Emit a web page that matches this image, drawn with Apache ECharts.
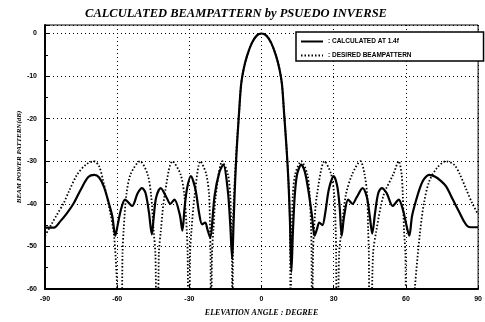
<!DOCTYPE html>
<html>
<head>
<meta charset="utf-8">
<script src="https://cdn.jsdelivr.net/npm/echarts@6/dist/echarts.min.js"></script>
<style>html,body{margin:0;padding:0;background:#fff}#c{width:485px;height:322px}</style>
</head>
<body>
<div id="c"></div>
<script>
var titleText = 'CALCULATED BEAMPATTERN by PSUEDO INVERSE';
var xName = 'ELEVATION ANGLE : DEGREE';
var yName = 'BEAM POWER PATTERN(dB)';
var seriesNames = [': CALCULATED AT 1.4f', ': DESIRED BEAMPATTERN'];
var xTicks = [-90, -60, -30, 0, 30, 60, 90];
var yTicks = [-60, -50, -40, -30, -20, -10, 0];

// calculated beampattern (angle deg, dB)
var calcAngles = [-90,-86.3,-83.5,-81,-78,-75,-72,-69.5,-67.5,-65.5,-63.5,-62,-60.8,-59.8,-58.5,-56.7,-53.8,-51.5,-49.7,-48.2,-46.8,-45.6,-44.8,-43.8,-41.9,-39.5,-37.9,-36.2,-34,-32.9,-32,-31,-29.4,-27.5,-26,-24.7,-23.4,-22.5,-21.4,-19.5,-17.5,-15.9,-14,-13,-12.2,-11.6,-11,-10.3,-9.4,-8.5,-7.5,-6,-4,-2,0,2,4,6,7.5,8.5,9.4,10.4,11.2,11.8,12.4,13,13.8,14.8,16.5,18,19.5,21,22,23,24,25.3,26.5,28,30,31.5,32.5,33.3,34.3,36,37.8,39.5,42,43.8,45,46,47.2,48.5,50,52,54.5,57,58.8,60.2,61.4,62.5,63.7,65.8,67.5,69.7,72,74.5,76.7,79.5,82.2,84,85.5,87,90];
var calcPower = [-45.6,-45.6,-44,-42.3,-39.8,-36.5,-33.7,-33.2,-33.8,-36,-39.8,-43,-47.5,-45,-41.5,-39,-40.5,-37.5,-36.3,-37.5,-42,-47.2,-43,-38.5,-36.3,-38.5,-40,-39,-42.5,-46.3,-41,-36.5,-33.5,-36.5,-42,-44.8,-44.4,-46,-47.9,-38,-32.5,-30.8,-37,-45,-53,-44,-35,-27,-19,-12,-8.5,-5.2,-2.2,-0.5,0,-0.5,-2.2,-5.2,-8.5,-12,-19,-27,-35,-44,-56,-47,-38,-33,-30.8,-32.5,-37,-43,-47.5,-46,-44.4,-45,-42,-36.5,-33.5,-36,-41,-47.5,-43,-39,-40,-38.5,-36.3,-38.5,-43,-47,-42,-37.5,-36.3,-37.5,-40.5,-39,-41.5,-45,-47.5,-43,-40.2,-36.3,-34.2,-33.2,-33.6,-34.6,-35.9,-39,-42,-44,-45.2,-45.5,-45.5];

// desired beampattern (angle deg, dB)
var desAngles = [-90,-87.5,-85,-82.2,-80,-76.7,-73,-69.7,-67.5,-65.8,-63.7,-61.4,-60,-59,-58.3,-57.8,-57.3,-56.2,-54.4,-50.5,-47.4,-45.9,-44.9,-44.1,-43.5,-43.1,-42.7,-41.8,-40.3,-37,-33.7,-32.1,-31.1,-30.7,-30.3,-30,-29.7,-29.1,-27.8,-25.4,-23,-21.8,-21.4,-21.2,-21,-20.8,-20.6,-20,-19,-16.3,-14,-13,-12.6,-12.3,-12.1,-11.8,-11.2,-10.4,-9.4,-8.5,-7.5,-6,-4,-2,0,2,4,6,7.5,8.5,9.4,10.4,11.2,11.8,12.1,12.3,12.6,13,14,16.5,19,20,20.6,20.8,21,21.2,21.4,21.8,23,26.2,28.9,30.2,30.8,31,31.3,31.6,32.2,33.3,35,37.7,41.1,42.8,43.9,44.3,44.6,44.9,45.3,46.3,47.8,50.7,54.8,57,58.2,58.7,59.2,59.8,60.3,61.6,63.7,65.8,67.5,69.7,73,76.7,80,82.2,85,87.5,90];
var desPower = [-47.5,-45,-42.5,-39.8,-37,-33.2,-30.8,-30,-31.2,-34.7,-39.8,-47,-60,-80,-80,-52,-46,-38,-33,-30,-33,-38,-46,-52,-80,-80,-52,-46,-38,-30,-33,-38,-46,-52,-80,-80,-52,-46,-38,-30,-33,-38,-46,-52,-80,-80,-52,-46,-38,-30,-33,-38,-46,-52,-80,-44,-35,-27,-19,-12,-8.5,-5.2,-2.2,-0.5,0,-0.5,-2.2,-5.2,-8.5,-12,-19,-27,-35,-44,-80,-52,-46,-38,-33,-30,-33,-38,-46,-52,-80,-80,-52,-46,-38,-30,-33,-38,-46,-52,-80,-80,-52,-46,-38,-33,-30,-33,-38,-46,-52,-80,-80,-52,-46,-38,-33,-30,-33,-38,-46,-52,-80,-80,-60,-47,-39.8,-34.7,-31.5,-30,-30.8,-32.8,-36.5,-39.8,-42.5,-45,-47];

function pairs(a, b) { var r = []; for (var i = 0; i < a.length; i++) r.push([a[i], b[i]]); return r; }

var chart = echarts.init(document.getElementById('c'), null, {renderer: 'canvas'});
var lblFont = {fontFamily: 'Liberation Sans', fontWeight: 'bold', fontSize: 7, color: '#000'};
chart.setOption({
  animation: false,
  backgroundColor: '#fff',
  title: {
    text: titleText, left: 231, textAlign: 'center', top: 2,
    textStyle: {fontFamily: 'Liberation Serif', fontStyle: 'italic', fontWeight: 'bold', fontSize: 12.5, color: '#000'}
  },
  grid: {left: 45, right: 2, top: 25, bottom: 31, show: true, borderColor: '#000', borderWidth: 1},
  legend: {
    orient: 'vertical', left: 296, top: 32, padding: [6, 72, 2, 4], itemGap: 7,
    itemWidth: 22, itemHeight: 8,
    itemStyle: {opacity: 0},
    backgroundColor: '#fff', borderColor: '#000', borderWidth: 1.5, borderRadius: 0,
    textStyle: {fontFamily: 'Liberation Sans', fontWeight: 'bold', fontSize: 6.5, color: '#000'},
    data: seriesNames
  },
  xAxis: {
    type: 'value', min: xTicks[0], max: xTicks[xTicks.length - 1], interval: 30,
    name: xName, nameLocation: 'middle', nameGap: 20, nameMoveOverlap: false,
    nameTextStyle: {fontFamily: 'Liberation Serif', fontStyle: 'italic', fontWeight: 'bold', fontSize: 8, color: '#000'},
    axisLine: {onZero: false, lineStyle: {color: '#000', width: 2}},
    axisTick: {inside: true, length: 3, lineStyle: {color: '#000'}},
    axisLabel: Object.assign({margin: 7}, lblFont),
    splitLine: {show: true, lineStyle: {color: '#000', type: [1, 3], width: 1}}
  },
  yAxis: {
    type: 'value', min: yTicks[0], max: 2, interval: 10,
    name: yName, nameLocation: 'middle', nameGap: 22, nameMoveOverlap: false,
    nameTextStyle: {fontFamily: 'Liberation Serif', fontStyle: 'italic', fontWeight: 'bold', fontSize: 7, color: '#000'},
    axisLine: {onZero: false, lineStyle: {color: '#000', width: 2}},
    axisTick: {inside: true, length: 4, lineStyle: {color: '#000'}},
    minorTick: {show: true, splitNumber: 2, length: 3, lineStyle: {color: '#000'}},
    axisLabel: Object.assign({margin: 8, formatter: function (v) { return yTicks.indexOf(v) >= 0 ? String(v) : ''; }}, lblFont),
    splitLine: {show: true, lineStyle: {color: '#000', type: [1, 3], width: 1}}
  },
  series: [
    {name: seriesNames[0], type: 'line', data: pairs(calcAngles, calcPower), symbol: 'none', smooth: 0.3, clip: true,
     lineStyle: {color: '#000', width: 2.2}, itemStyle: {color: '#000'}, z: 3},
    {name: seriesNames[1], type: 'line', data: pairs(desAngles, desPower), symbol: 'none', smooth: 0.3, clip: true,
     lineStyle: {color: '#000', width: 1.8, type: [1.5, 2]}, itemStyle: {color: '#000'}, z: 2}
  ]
});
</script>
</body>
</html>
